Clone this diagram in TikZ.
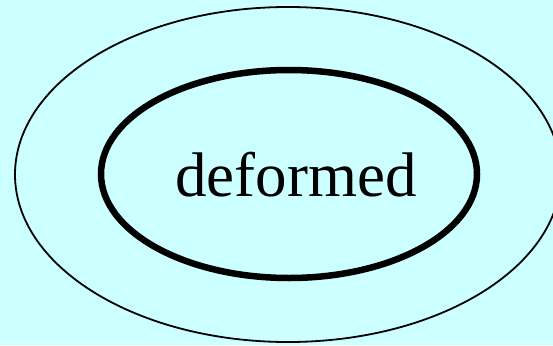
\documentclass[tikz,border=0pt]{standalone}
\usepackage{fontspec}
\setmainfont{Liberation Serif}
\usetikzlibrary{shapes.geometric}
\definecolor{paleCyan}{HTML}{CCFFFF}
\begin{document}
\begin{tikzpicture}[x=1pt,y=-1pt,
    ring/.style={draw=black,ellipse,inner sep=0pt,outer sep=0pt}]
    \fill[paleCyan] (0,0) rectangle (553,345);
    \useasboundingbox (0,0) rectangle (553,345);
    \node[ring,line width=1.8pt,minimum width=546pt,minimum height=335pt] (outer) at (288,174.5) {};
    \node[ring,line width=6.5pt,minimum width=376pt,minimum height=208pt] (inner) at (289,174) {};
    \node[anchor=base,inner sep=0pt] (word) at (296,196) {\fontsize{63}{63}\selectfont deformed};
  \end{tikzpicture}
\end{document}
